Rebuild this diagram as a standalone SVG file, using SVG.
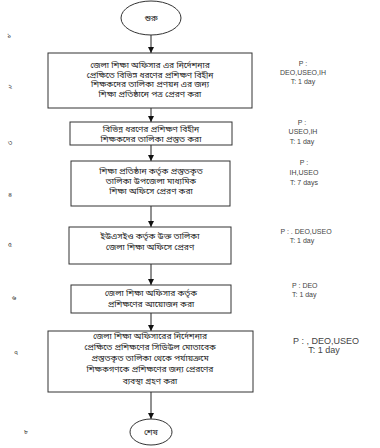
<svg xmlns="http://www.w3.org/2000/svg" width="380" height="448" viewBox="0 0 380 448">
<style>
.box{fill:#fff;stroke:#333;stroke-width:1}
.term{fill:#fff;stroke:#333;stroke-width:1}
.bn{font-family:"Noto Sans Bengali","Lohit Bengali","FreeSerif","Noto Sans",sans-serif;font-size:8.5px;fill:#222;text-anchor:middle}
.num{font-family:"Noto Sans Bengali","Lohit Bengali","FreeSerif","Noto Sans",sans-serif;font-size:7px;fill:#333;text-anchor:middle}
.lab{font-family:"Liberation Sans",Arial,sans-serif;font-size:7px;fill:#444;text-anchor:middle}
.conn{stroke:#222;stroke-width:1;fill:none;marker-end:url(#ah)}
</style>
<defs>
<marker id="ah" viewBox="0 0 10 10" refX="10" refY="5" markerWidth="6" markerHeight="6" markerUnits="userSpaceOnUse" orient="auto">
<path d="M0,0 L10,5 L0,10 Z" fill="#111"/>
</marker>
</defs>
<rect width="380" height="448" fill="#fff"/>
<g id="connectors">
<line class="conn" x1="151" y1="35" x2="151" y2="53"/>
<line class="conn" x1="151" y1="108" x2="151" y2="122"/>
<line class="conn" x1="151" y1="145" x2="151" y2="161"/>
<line class="conn" x1="151" y1="206" x2="151" y2="227"/>
<line class="conn" x1="151" y1="264" x2="151" y2="285"/>
<line class="conn" x1="151" y1="313" x2="151" y2="331"/>
<line class="conn" x1="151" y1="392" x2="151" y2="419"/>
</g>
<g id="start">
<ellipse class="term" cx="151" cy="18" rx="30" ry="17"/>
<text class="bn" x="151" y="21">শুরু</text>
</g>
<g id="step1">
<rect class="box" x="48" y="53" width="204" height="55"/>
<text class="bn" x="150" y="68">জেলা শিক্ষা অফিসার এর নির্দেশনার</text>
<text class="bn" x="150" y="77.5">প্রেক্ষিতে বিভিন্ন ধরণের প্রশিক্ষণ বিহীন</text>
<text class="bn" x="150" y="87">শিক্ষকদের তালিকা প্রণয়ন এর জন্য</text>
<text class="bn" x="150" y="96.5">শিক্ষা প্রতিষ্ঠানে পত্র প্রেরণ করা</text>
</g>
<g id="step2">
<rect class="box" x="70" y="122" width="162" height="23"/>
<text class="bn" x="151" y="132">বিভিন্ন ধরণের প্রশিক্ষণ বিহীন</text>
<text class="bn" x="151" y="142">শিক্ষকদের তালিকা প্রস্তুত করা</text>
</g>
<g id="step3">
<rect class="box" x="71" y="161" width="159" height="45"/>
<text class="bn" x="151" y="174">শিক্ষা প্রতিষ্ঠান কর্তৃক প্রস্তুতকৃত</text>
<text class="bn" x="151" y="184">তালিকা উপজেলা মাধ্যমিক</text>
<text class="bn" x="151" y="194">শিক্ষা অফিসে প্রেরণ করা</text>
</g>
<g id="step4">
<rect class="box" x="69" y="227" width="162" height="37"/>
<text class="bn" x="150" y="239">ইউএসইও কর্তৃক উক্ত তালিকা</text>
<text class="bn" x="150" y="250">জেলা শিক্ষা অফিসে প্রেরণ</text>
</g>
<g id="step5">
<rect class="box" x="71" y="285" width="160" height="28"/>
<text class="bn" x="151" y="296">জেলা শিক্ষা অফিসার কর্তৃক</text>
<text class="bn" x="151" y="307">প্রশিক্ষণের আয়োজন করা</text>
</g>
<g id="step6">
<rect class="box" x="48" y="331" width="205" height="61"/>
<text class="bn" x="150" y="339">জেলা শিক্ষা অফিসারের নির্দেশনার</text>
<text class="bn" x="150" y="350">প্রেক্ষিতে প্রশিক্ষণের সিডিউল মোতাবেক</text>
<text class="bn" x="150" y="361">প্রস্তুতকৃত তালিকা থেকে পর্যায়ক্রমে</text>
<text class="bn" x="150" y="372">শিক্ষকগণকে প্রশিক্ষণের জন্য প্রেরণের</text>
<text class="bn" x="150" y="384">ব্যবস্থা গ্রহণ করা</text>
</g>
<g id="end">
<ellipse class="term" cx="151" cy="432" rx="21" ry="13"/>
<text class="bn" x="151" y="435">শেষ</text>
</g>
<g id="labels">
<text class="lab" x="303" y="66">P :</text>
<text class="lab" x="303" y="75">DEO,USEO,IH</text>
<text class="lab" x="303" y="84">T: 1 day</text>
<text class="lab" x="302" y="125">P :</text>
<text class="lab" x="303" y="134">USEO,IH</text>
<text class="lab" x="302" y="144">T: 1 day</text>
<text class="lab" x="304" y="165">P :</text>
<text class="lab" x="304" y="175">IH,USEO</text>
<text class="lab" x="304" y="185">T: 7 days</text>
<text class="lab" x="306" y="234">P : . DEO,USEO</text>
<text class="lab" x="302" y="243">T: 1 day</text>
<text class="lab" x="292" y="288" style="text-anchor:start">P : DEO</text>
<text class="lab" x="292" y="297" style="text-anchor:start">T: 1 day</text>
<text class="lab" x="326" y="344" style="font-size:9px">P : , DEO,USEO</text>
<text class="lab" x="324" y="353" style="font-size:9px">T: 1 day</text>
</g>
<g id="numbers">
<text class="num" x="9" y="37">১</text>
<text class="num" x="10" y="89">২</text>
<text class="num" x="10" y="145">৩</text>
<text class="num" x="10" y="197">৪</text>
<text class="num" x="10" y="247">৫</text>
<text class="num" x="14" y="300">৬</text>
<text class="num" x="16" y="355">৭</text>
<text class="num" x="26" y="434">৮</text>
</g>
</svg>
